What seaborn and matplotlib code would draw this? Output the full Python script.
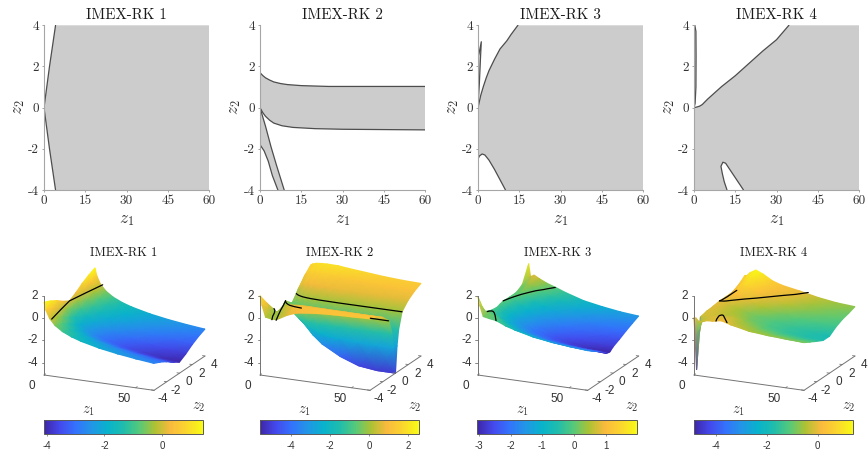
import numpy as np
import matplotlib
matplotlib.use("Agg")
import matplotlib.pyplot as plt
import seaborn as sns
from matplotlib.colors import LinearSegmentedColormap

TITLES = ["IMEX-RK 1", "IMEX-RK 2", "IMEX-RK 3", "IMEX-RK 4"]
X_TICKS = [0, 15, 30, 45, 60]
Y_TICKS = [-4, -2, 0, 2, 4]
Y_TICK_LABELS = ["-4", "-2", "0", "2", "4"]
Z_TICKS = [-4, -2, 0, 2]
Z2_TICKS = [-4, -2, 0, 2, 4]

# boundaries of the stability regions (z1, z2)
RK1_EDGE_Z1 = [4.2, 3.1, 2.0, 1.0, 0, 1.0, 2.0, 3.1, 4.2]
RK1_EDGE_Z2 = [-4, -3, -2, -1, 0, 1, 2, 3, 4]

RK2_UPPER_Z1 = [0, 1, 2, 3.5, 5, 7.5, 10, 15, 25, 40, 60]
RK2_UPPER_Z2 = [1.7, 1.56, 1.45, 1.34, 1.25, 1.17, 1.12, 1.07, 1.03, 1.03, 1.03]
RK2_LOWER_Z1 = [0, 1, 2, 3.5, 5, 8, 12, 20, 30, 50, 60]
RK2_LOWER_Z2 = [0, -0.24, -0.42, -0.61, -0.75, -0.88, -0.96, -1.02, -1.05, -1.07, -1.08]
RK2_STRIP_R_Z1 = [0, 2, 4, 6, 8.8]
RK2_STRIP_R_Z2 = [0, -0.9, -1.9, -2.8, -4]
RK2_STRIP_L_Z1 = [0, 1.5, 3, 4.5, 6.5]
RK2_STRIP_L_Z2 = [-1.8, -2.1, -2.6, -3.3, -4]

RK3_TOP_Z1 = [0, 1, 2, 3, 4, 6, 8, 10.5, 12, 14.5]
RK3_TOP_Z2 = [0, 0.6, 1.05, 1.45, 1.8, 2.35, 2.85, 3.25, 3.55, 4]
RK3_SLIVER_Z1 = [0, 0.4, 1.2, 0.9, 0.5, 0]
RK3_SLIVER_Z2 = [2.45, 2.65, 3.2, 2.4, 1.2, 0]
RK3_LOW_Z1 = [0, 0.5, 1.5, 2.5, 4, 6, 8, 10]
RK3_LOW_Z2 = [-2.5, -2.35, -2.25, -2.3, -2.55, -3, -3.5, -4]

RK4_TOP_Z1 = [0, 1, 2, 3, 5, 10, 15, 20, 25, 30, 34.5]
RK4_TOP_Z2 = [0, 0.03, 0.07, 0.15, 0.42, 1.02, 1.55, 2.15, 2.75, 3.3, 4]
RK4_SLIVER_Z1 = [0.3, 0.7, 0.75, 0.7, 0.4, 0]
RK4_SLIVER_Z2 = [4, 3.7, 2.5, 1, 0.2, 0]
RK4_HOLE_Z1 = [12, 11, 10.3, 9.8, 10.5, 11.5, 13, 15, 18]
RK4_HOLE_Z2 = [-4, -3.6, -3.2, -2.85, -2.65, -2.7, -3, -3.4, -4]

# surface heights, rows run from the back (z2 = 4) to the front (z2 = -4)
Z1_NODES = [0, 1, 3, 6, 10, 15, 20, 30, 40, 50, 60]
Z1_NODES_RK2 = [0, 1, 3, 6, 9, 15, 20, 30, 40, 50, 60]

RK1_Z2 = [4, 3, 2, 1, 0, -1, -2, -3, -4]
RK1_Z = [
    [1.42, 0.73, 0.03, -0.53, -0.98, -1.35, -1.62, -2.01, -2.29, -2.51, -2.69],
    [1.15, 0.46, -0.24, -0.80, -1.25, -1.62, -1.89, -2.28, -2.56, -2.78, -2.96],
    [0.80, 0.11, -0.59, -1.15, -1.60, -1.97, -2.24, -2.63, -2.91, -3.13, -3.31],
    [0.35, -0.34, -1.04, -1.60, -2.05, -2.42, -2.69, -3.08, -3.36, -3.58, -3.76],
    [0.00, -0.69, -1.39, -1.95, -2.40, -2.77, -3.04, -3.43, -3.71, -3.93, -4.11],
    [0.35, -0.34, -1.04, -1.60, -2.05, -2.42, -2.69, -3.08, -3.36, -3.58, -3.76],
    [0.80, 0.11, -0.59, -1.15, -1.60, -1.97, -2.24, -2.63, -2.91, -3.13, -3.31],
    [1.15, 0.46, -0.24, -0.80, -1.25, -1.62, -1.89, -2.28, -2.56, -2.78, -2.96],
    [1.42, 0.73, 0.03, -0.53, -0.98, -1.35, -1.62, -2.01, -2.29, -2.51, -2.69],
]

RK2_Z2 = [4, 3, 2, 1.03, 0.5, 0.25, 0, -0.25, -0.5, -1.05, -2, -3, -4]
RK2_Z = [
    [1.7, 1.8, 1.9, 1.95, 1.97, 1.95, 1.85, 1.7, 1.55, 1.45, 1.4],
    [1.1, 1.3, 1.5, 1.55, 1.5, 1.4, 1.3, 1.2, 1.15, 1.12, 1.1],
    [0.3, 0.5, 0.75, 0.85, 0.85, 0.78, 0.74, 0.7, 0.68, 0.67, 0.67],
    [-0.6, -0.5, -0.25, -0.1, -0.03, 0, 0, 0, 0, 0, 0],
    [-0.3, -0.5, -0.8, -0.95, -1.1, -1.3, -1.4, -1.4, -1.4, -1.4, -1.4],
    [-0.15, -0.35, -0.7, -1.0, -1.4, -2.0, -2.4, -2.6, -2.7, -2.75, -2.75],
    [0, -0.1, -0.4, -1.0, -1.6, -2.7, -3.4, -4.3, -4.9, -5.1, -5.1],
    [-0.15, -0.1, -0.4, -0.9, -1.4, -2.0, -2.4, -2.6, -2.7, -2.75, -2.75],
    [-0.4, -0.3, -0.05, -0.7, -1.1, -1.3, -1.4, -1.4, -1.4, -1.4, -1.4],
    [-0.9, -0.9, 0.15, 0.15, 0.05, 0.02, 0, 0, 0, 0, 0],
    [0.1, -0.4, -0.1, 0.3, 0.6, 0.7, 0.7, 0.68, 0.67, 0.66, 0.66],
    [1.0, 0.4, 0.05, -0.2, 0.3, 0.9, 1.05, 1.1, 1.1, 1.1, 1.1],
    [2.0, 1.2, 0.15, 0.05, 0.05, 0.6, 0.9, 1.1, 1.2, 1.25, 1.3],
]

RK3_Z2 = [4, 3, 2, 1, 0, -0.5, -1, -2, -3, -4]
RK3_Z = [
    [1.8, 0.66, 0.84, 0.57, 0.27, -0.01, -0.32, -0.83, -1.13, -1.37, -1.52],
    [0.3, 0.0, 0.4, 0.25, -0.03, -0.4, -0.7, -1.2, -1.5, -1.7, -1.8],
    [-0.05, 0.05, 0.15, -0.15, -0.6, -0.95, -1.2, -1.6, -1.85, -2.0, -2.1],
    [-0.05, 0.0, -0.3, -0.65, -1.0, -1.35, -1.6, -2.0, -2.2, -2.35, -2.44],
    [0, -0.2, -0.5, -0.85, -1.3, -1.6, -1.9, -2.3, -2.5, -2.65, -2.74],
    [-0.1, -0.3, -0.6, -1.0, -1.4, -1.7, -2.0, -2.4, -2.7, -2.9, -3.0],
    [-0.2, -0.3, -0.6, -0.95, -1.35, -1.65, -1.95, -2.35, -2.65, -2.85, -2.95],
    [-0.1, -0.15, -0.35, -0.65, -1.0, -1.3, -1.6, -2.0, -2.2, -2.35, -2.42],
    [0.2, 0.15, 0.1, -0.05, -0.45, -0.85, -1.15, -1.5, -1.75, -1.9, -2.0],
    [1.95, 1.2, 0.2, 0.1, 0, -0.35, -0.6, -1.0, -1.25, -1.42, -1.55],
]

RK4_Z2 = [4, 3, 2, 1, 0, -1, -2, -3, -3.6, -4]
RK4_Z = [
    [0.75, 0.75, 1.08, 1.36, 1.08, 0.6, 0.33, 0.03, -0.32, -0.56, -0.68],
    [0.28, 0.4, 0.75, 1.05, 0.85, 0.5, 0.25, -0.1, -0.55, -0.78, -0.9],
    [0, 0.1, 0.45, 0.7, 0.55, 0.25, -0.03, -0.4, -0.75, -0.95, -1.07],
    [-0.02, 0, 0.25, 0.2, 0, -0.25, -0.5, -0.85, -1.1, -1.27, -1.37],
    [0, -0.03, -0.1, -0.3, -0.5, -0.7, -0.9, -1.2, -1.45, -1.65, -1.8],
    [-0.1, -0.1, -0.15, -0.3, -0.45, -0.6, -0.85, -1.2, -1.5, -1.68, -1.79],
    [-0.15, -0.12, -0.15, -0.25, -0.35, -0.35, -0.6, -1.0, -1.25, -1.4, -1.49],
    [-0.3, -0.2, -0.2, -0.15, -0.02, -0.1, -0.4, -0.7, -0.95, -1.08, -1.16],
    [-4.8, -1.2, -0.4, -0.2, -0.08, 0.03, -0.25, -0.6, -0.75, -0.88, -0.97],
    [0.03, 0.03, -0.3, -0.1, -0.05, 0.1, -0.15, -0.5, -0.65, -0.75, -0.83],
]

# colour limits and colourbar ticks
C_LIMITS = [(-4.09, 1.4), (-5.6, 2.55), (-3.05, 2.0), (-4.85, 1.4)]
CBAR_TICKS = [[-4, -2, 0], [-4, -2, 0, 2], [-3, -2, -1, 0, 1], [-4, -2, 0]]
CBAR_LABELS = [["-4", "-2", "0"], ["-4", "-2", "0", "2"],
               ["-3", "-2", "-1", "0", "1"], ["-4", "-2", "0"]]

sns.set_theme(style="white")
plt.rcParams["font.family"] = ["Liberation Sans", "DejaVu Sans"]
plt.rcParams["mathtext.fontset"] = "cm"
plt.rcParams["axes.unicode_minus"] = False
plt.rcParams["axes.formatter.use_mathtext"] = True

W, H = 868, 454
GRAY = "0.8"
EDGE = "0.3"
TEXT = "0.2"

parula = LinearSegmentedColormap.from_list("parula", [
    (0.00, (0.2422, 0.1504, 0.6603)), (0.10, (0.2647, 0.2877, 0.9283)),
    (0.20, (0.20, 0.45, 0.99)), (0.30, (0.13, 0.59, 0.90)),
    (0.40, (0.03, 0.70, 0.80)), (0.50, (0.12, 0.74, 0.68)),
    (0.60, (0.33, 0.79, 0.48)), (0.70, (0.68, 0.76, 0.20)),
    (0.80, (0.98, 0.73, 0.24)), (0.90, (0.98, 0.84, 0.18)),
    (1.00, (0.976, 0.984, 0.08))])


def rect(left, top, right, bottom):
    return [left / W, 1 - bottom / H, (right - left) / W, (bottom - top) / H]


def poly(*parts):
    xs = np.concatenate([np.asarray(p[0], float) for p in parts])
    ys = np.concatenate([np.asarray(p[1], float) for p in parts])
    return xs, ys


fig = plt.figure(figsize=(W / 100, H / 100), dpi=100)

# ---------- top row: stability regions ----------
LEFTS = [44, 260, 478, 694]

top_axes = []
for i, left in enumerate(LEFTS):
    ax = fig.add_axes(rect(left, 25.3, left + 165, 190))
    top_axes.append(ax)

right_side = ([60, 60], [4, -4])

# RK1: everything right of the wedge
x, y = poly((RK1_EDGE_Z1[::-1], RK1_EDGE_Z2[::-1]), ([60, 60], [-4, 4]))
top_axes[0].fill(x, y, color=GRAY, lw=0)
sns.lineplot(x=RK1_EDGE_Z1, y=RK1_EDGE_Z2, sort=False, estimator=None, color=EDGE, lw=0.9, ax=top_axes[0])

# RK2: band and lower strip
x, y = poly((RK2_UPPER_Z1, RK2_UPPER_Z2), (RK2_LOWER_Z1[::-1], RK2_LOWER_Z2[::-1]))
top_axes[1].fill(x, y, color=GRAY, lw=0)
x, y = poly((RK2_STRIP_R_Z1, RK2_STRIP_R_Z2), (RK2_STRIP_L_Z1[::-1], RK2_STRIP_L_Z2[::-1]))
top_axes[1].fill(x, y, color=GRAY, lw=0)
for cx, cy in [(RK2_UPPER_Z1, RK2_UPPER_Z2), (RK2_LOWER_Z1, RK2_LOWER_Z2),
               (RK2_STRIP_R_Z1, RK2_STRIP_R_Z2), (RK2_STRIP_L_Z1, RK2_STRIP_L_Z2)]:
    sns.lineplot(x=cx, y=cy, sort=False, estimator=None, color=EDGE, lw=0.9, ax=top_axes[1])

# RK3
x, y = poly((RK3_TOP_Z1, RK3_TOP_Z2), right_side, (RK3_LOW_Z1[::-1], RK3_LOW_Z2[::-1]))
top_axes[2].fill(x, y, color=GRAY, lw=0)
top_axes[2].fill(RK3_SLIVER_Z1, RK3_SLIVER_Z2, color=GRAY, lw=0)
for cx, cy in [(RK3_TOP_Z1, RK3_TOP_Z2), (RK3_SLIVER_Z1, RK3_SLIVER_Z2), (RK3_LOW_Z1, RK3_LOW_Z2)]:
    sns.lineplot(x=cx, y=cy, sort=False, estimator=None, color=EDGE, lw=0.9, ax=top_axes[2])

# RK4
x, y = poly((RK4_TOP_Z1, RK4_TOP_Z2), right_side, (RK4_HOLE_Z1[::-1], RK4_HOLE_Z2[::-1]), ([0], [-4]))
top_axes[3].fill(x, y, color=GRAY, lw=0)
x, y = poly((RK4_SLIVER_Z1, RK4_SLIVER_Z2), ([0], [4]))
top_axes[3].fill(x, y, color=GRAY, lw=0)
for cx, cy in [(RK4_TOP_Z1, RK4_TOP_Z2), (RK4_SLIVER_Z1, RK4_SLIVER_Z2), (RK4_HOLE_Z1, RK4_HOLE_Z2)]:
    sns.lineplot(x=cx, y=cy, sort=False, estimator=None, color=EDGE, lw=0.9, ax=top_axes[3])

for ax, title in zip(top_axes, TITLES):
    ax.set_xlim(0, 60)
    ax.set_ylim(-4, 4)
    ax.set_xticks(X_TICKS)
    ax.set_yticks(Y_TICKS)
    ax.set_xticklabels([str(t) for t in X_TICKS], family="cmr10", fontsize=9.5, color=TEXT)
    ax.set_yticklabels(Y_TICK_LABELS, family="cmr10", fontsize=9.5, color=TEXT)
    ax.tick_params(length=1.5, width=0.5, color="0.5", pad=2, left=True, bottom=True)
    ax.set_title(title, family="cmr10", fontsize=10.8, color="0.1", pad=4.5)
    ax.set_xlabel("$z_1$", fontsize=12.5, color=TEXT, labelpad=4)
    ax.set_ylabel("$z_2$", fontsize=12.5, color=TEXT, labelpad=0.5)
    sns.despine(ax=ax)
    for side in ["left", "bottom"]:
        ax.spines[side].set_color("0.65")
        ax.spines[side].set_linewidth(0.8)
    ax.set_facecolor("white")

# ---------- bottom row: surfaces, drawn with an orthographic camera ----------
canvas = fig.add_axes([0, 0, 1, 1], zorder=-1)
canvas.set_axis_off()


def project(z1, z2, z, x0):
    z1, z2, z = np.asarray(z1, float), np.asarray(z2, float), np.asarray(z, float)
    sx = x0 + 1.833 * z1 + 6.375 * (z2 + 4)
    sy = 375 + 0.2556 * z1 - 4.29 * (z2 + 4) - 11.17 * (z + 5.1)
    return sx, sy


def contour(z1, z2, x0):
    # zero-level boundary lies in the plane z = 0
    sx, sy = project(z1, z2, np.zeros(len(z1)), x0)
    sns.lineplot(x=sx, y=sy, sort=False, estimator=None, color="black", lw=0.9, ax=canvas)


SURF_LEFTS = [44, 260, 477.7, 694]
surfaces = [(Z1_NODES, RK1_Z2, RK1_Z), (Z1_NODES_RK2, RK2_Z2, RK2_Z),
            (Z1_NODES, RK3_Z2, RK3_Z), (Z1_NODES, RK4_Z2, RK4_Z)]
CBAR_SPANS = [(44, 202.7), (260, 419), (477.3, 637.3), (694, 853.3)]

for i, (z1, z2, z) in enumerate(surfaces):
    x0 = SURF_LEFTS[i]
    g1, g2 = np.meshgrid(z1, z2)
    sx, sy = project(g1, g2, z, x0)
    mesh = canvas.pcolormesh(sx, sy, np.array(z), shading="gouraud", cmap=parula,
                             vmin=C_LIMITS[i][0], vmax=C_LIMITS[i][1])

    # axis box
    for a, b, c in [([0, 0], [-4, -4], [-5.1, 2]), ([0, 60], [-4, -4], [-5.1, -5.1]),
                    ([60, 60], [-4, 4], [-5.1, -5.1])]:
        ax_x, ax_y = project(a, b, c, x0)
        canvas.plot(ax_x, ax_y, color="0.45", lw=0.7)

    for t in Z_TICKS:
        tx, ty = project(0, -4, t, x0)
        canvas.plot([tx - 2.5, tx], [ty, ty], color="0.45", lw=0.6)
        canvas.text(tx - 6, ty, str(t), ha="right", va="center", fontsize=8.5, color=TEXT)
    for t in [0, 50]:
        tx, ty = project(t, -4, -5.1, x0)
        canvas.plot([tx, tx + 1.6], [ty, ty - 1.1], color="0.45", lw=0.6)
        canvas.text(tx - 12, ty + 11, str(t), ha="center", va="center", fontsize=8.5, color=TEXT)
    for t in Z2_TICKS:
        tx, ty = project(60, t, -5.1, x0)
        canvas.plot([tx, tx - 2.5], [ty, ty - 0.4], color="0.45", lw=0.6)
        canvas.text(tx + 9, ty + 9, str(t), ha="center", va="center", fontsize=8.5, color=TEXT)

    canvas.text(x0 + 45, 411.5, "$z_1$", ha="center", va="center", fontsize=10.5, color=TEXT)
    canvas.text(x0 + 154.5, 406.5, "$z_2$", ha="center", va="center", fontsize=10.5, color=TEXT)
    canvas.text(x0 + 80, 253, TITLES[i], ha="center", va="center", family="cmr10",
                fontsize=9, color="0.1")

    c_left, c_right = CBAR_SPANS[i]
    cax = fig.add_axes(rect(c_left, 420.3, c_right, 433.7))
    bar = fig.colorbar(mesh, cax=cax, orientation="horizontal", ticks=CBAR_TICKS[i])
    bar.ax.set_xticklabels(CBAR_LABELS[i], fontsize=7, color=TEXT)
    bar.ax.tick_params(length=1.5, width=0.5, color="0.4", pad=4)
    bar.outline.set_edgecolor("0.35")
    bar.outline.set_linewidth(0.7)

# zero-level contours on the surfaces
contour(RK1_EDGE_Z1, RK1_EDGE_Z2, SURF_LEFTS[0])

contour(RK2_UPPER_Z1, RK2_UPPER_Z2, SURF_LEFTS[1])
contour(RK2_LOWER_Z1[:7], RK2_LOWER_Z2[:7], SURF_LEFTS[1])
contour(RK2_LOWER_Z1[-2:], RK2_LOWER_Z2[-2:], SURF_LEFTS[1])
contour(RK2_STRIP_R_Z1, RK2_STRIP_R_Z2, SURF_LEFTS[1])
contour(RK2_STRIP_L_Z1, RK2_STRIP_L_Z2, SURF_LEFTS[1])

contour(RK3_TOP_Z1, RK3_TOP_Z2, SURF_LEFTS[2])
contour(RK3_LOW_Z1, RK3_LOW_Z2, SURF_LEFTS[2])

contour(RK4_TOP_Z1, RK4_TOP_Z2, SURF_LEFTS[3])
contour(RK4_SLIVER_Z1[2:], RK4_SLIVER_Z2[2:], SURF_LEFTS[3])
contour(RK4_HOLE_Z1, RK4_HOLE_Z2, SURF_LEFTS[3])

canvas.set_xlim(0, W)
canvas.set_ylim(H, 0)

fig.savefig("out.png", dpi=100)
